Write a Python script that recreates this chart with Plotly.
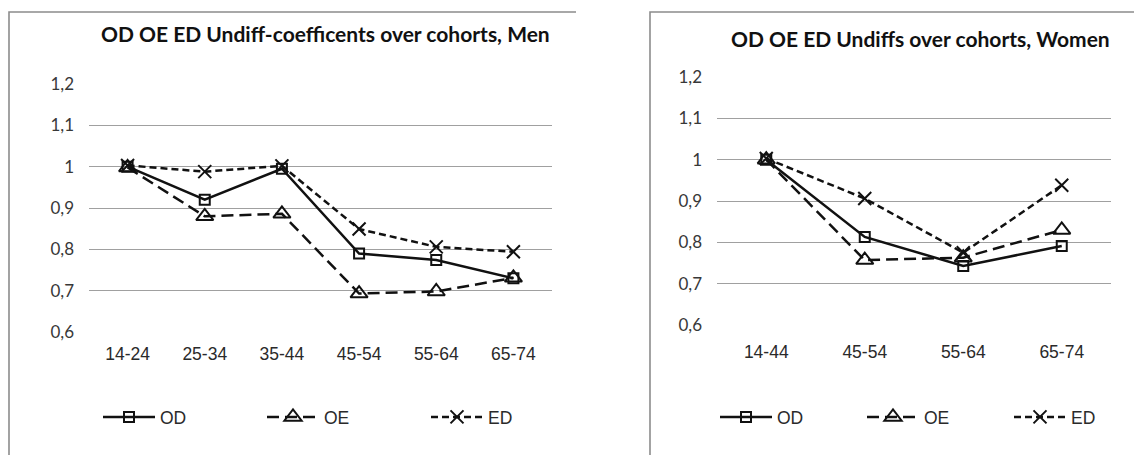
import plotly.graph_objects as go

# Undifferentiation coefficients by age cohort
men_cohorts = ["14-24", "25-34", "35-44", "45-54", "55-64", "65-74"]
men_od = [1.0, 0.92, 0.995, 0.79, 0.774, 0.73]
men_oe = [0.998, 0.88, 0.886, 0.693, 0.698, 0.731]
men_ed = [1.003, 0.988, 1.002, 0.849, 0.806, 0.794]

women_cohorts = ["14-44", "45-54", "55-64", "65-74"]
women_od = [1.0, 0.813, 0.743, 0.791]
women_oe = [1.0, 0.757, 0.763, 0.83]
women_ed = [1.003, 0.906, 0.775, 0.938]

y_ticks = [0.6, 0.7, 0.8, 0.9, 1.0, 1.1, 1.2]
y_ticktext = ["0,6", "0,7", "0,8", "0,9", "1", "1,1", "1,2"]

series_names = ["OD", "OE", "ED"]
men_title = "OD OE ED Undiff-coefficents over cohorts, Men"
women_title = "OD OE ED Undiffs over cohorts, Women"

W, H = 1134, 455


def px_x(v):
    return v / W


def px_y(v):
    return 1 - v / H


SANS = "Liberation Sans, Arial, sans-serif"
LABEL = "Lato, Calibri, Carlito, sans-serif"
INK = "#111111"

styles = {
    "OD": dict(dash="solid", symbol="square-open", size=10),
    "OE": dict(dash="12px,6px", symbol="triangle-up-open", size=15),
    "ED": dict(dash="7px,4px", symbol="x-thin-open", size=13),
}

fig = go.Figure()


def add_series(cats, values, name, xa, ya, legend):
    st = styles[name]
    fig.add_trace(go.Scatter(
        x=cats, y=values, name=name, mode="lines+markers",
        xaxis=xa, yaxis=ya, legend=legend,
        line=dict(color=INK, width=2.5, dash=st["dash"]),
        marker=dict(symbol=st["symbol"], size=st["size"], color=INK,
                    line=dict(color=INK, width=2)),
        cliponaxis=False,
    ))


for name, vals in zip(series_names, [men_od, men_oe, men_ed]):
    add_series(men_cohorts, vals, name, "x", "y", "legend")
for name, vals in zip(series_names, [women_od, women_oe, women_ed]):
    add_series(women_cohorts, vals, name, "x2", "y2", "legend2")

yaxis_common = dict(
    range=[0.6, 1.2], tickvals=y_ticks, ticktext=y_ticktext,
    showgrid=True, gridcolor="#a0a0a0", gridwidth=1, zeroline=False,
    showline=False, ticks="", tickfont=dict(family=LABEL, size=17, color="#383838"),
    ticklabelstandoff=14, fixedrange=True,
)
xaxis_common = dict(
    type="category", showgrid=False, zeroline=False, showline=False, ticks="",
    tickfont=dict(family=SANS, size=17.5, color="#2a2a2a"), fixedrange=True,
)

legend_common = dict(
    orientation="h", yanchor="middle", xanchor="left",
    font=dict(family=SANS, size=17.5, color="#2a2a2a"),
    itemwidth=52, entrywidthmode="pixels", bgcolor="rgba(0,0,0,0)",
    itemclick=False, itemdoubleclick=False,
)

fig.update_layout(
    width=W, height=H,
    margin=dict(l=0, r=0, t=0, b=0, autoexpand=False),
    paper_bgcolor="white", plot_bgcolor="white",
    showlegend=True,
    xaxis=dict(domain=[px_x(89), px_x(552)], anchor="y",
               range=[-0.5, len(men_cohorts) - 0.5], ticklabelstandoff=9, **xaxis_common),
    yaxis=dict(domain=[px_y(332), px_y(84)], anchor="x", **yaxis_common),
    xaxis2=dict(domain=[px_x(717), px_x(1111)], anchor="y2",
                range=[-0.5, len(women_cohorts) - 0.5], ticklabelstandoff=14, **xaxis_common),
    yaxis2=dict(domain=[px_y(325), px_y(77)], anchor="x2", **yaxis_common),
    legend=dict(x=px_x(98), y=px_y(417), entrywidth=97, **legend_common),
    legend2=dict(x=px_x(715), y=px_y(417), entrywidth=80, **legend_common),
    annotations=[
        dict(text=men_title, xref="paper", yref="paper", x=px_x(325), y=px_y(34),
             xanchor="center", yanchor="middle", showarrow=False,
             font=dict(family=LABEL, size=21, color=INK, weight="bold")),
        dict(text=women_title, xref="paper", yref="paper", x=px_x(920), y=px_y(38),
             xanchor="center", yanchor="middle", showarrow=False,
             font=dict(family=LABEL, size=21, color=INK, weight="bold")),
    ],
    shapes=[
        dict(type="path", xref="paper", yref="paper",
             path=f"M {px_x(9)},0 L {px_x(9)},{px_y(12)} L {px_x(576)},{px_y(12)}",
             line=dict(color="#8c8c8c", width=1.6)),
        dict(type="path", xref="paper", yref="paper",
             path=f"M {px_x(650)},0 L {px_x(650)},{px_y(12)} L 1,{px_y(12)}",
             line=dict(color="#8c8c8c", width=1.6)),
    ],
)

fig.write_html("out.html")
